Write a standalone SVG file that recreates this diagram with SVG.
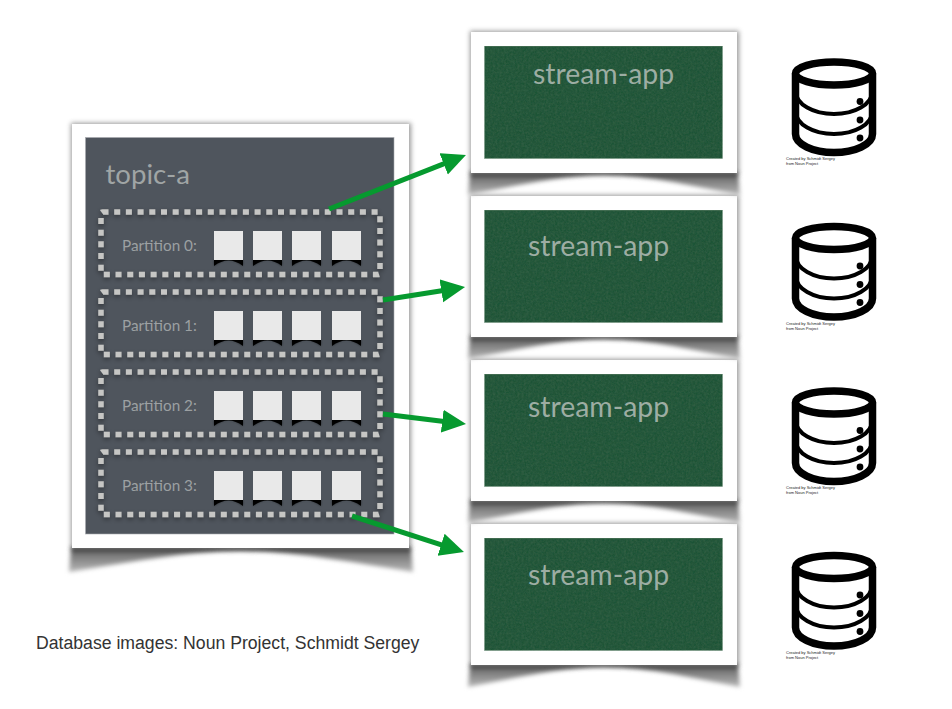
<svg xmlns="http://www.w3.org/2000/svg" xmlns:xlink="http://www.w3.org/1999/xlink" width="952" height="709" viewBox="0 0 952 709">
<style>
.lato{font-family:Lato,"Open Sans","Liberation Sans",sans-serif}
.title{font-size:27.6px;fill:#a0a5a5}
.app{font-size:28.4px;fill:#9dada3}
.part{font-size:15.3px;fill:#9ca0a2}
.dots{fill:none;stroke:#c6c6c4;stroke-width:5.5;stroke-dasharray:6 5.7}
.sq{fill:#e9e9e9}
.card{fill:#fff}
.green{fill:#245437;stroke:#7f9f8b;stroke-width:.6}
.conn{fill:none;stroke:#069a2f;stroke-width:5}
.db{fill:none;stroke:#000}
.credit{font-family:"Liberation Sans",Arial,sans-serif;font-size:4px;fill:#222}
</style>
<defs>
<filter id="b3" x="-10%" y="-30%" width="120%" height="160%"><feGaussianBlur stdDeviation="2"/></filter>
<filter id="b1" x="-20%" y="-30%" width="140%" height="160%"><feGaussianBlur stdDeviation="1.2"/></filter>
<filter id="b2" x="-10%" y="-10%" width="120%" height="120%"><feGaussianBlur stdDeviation="2.5"/></filter>
<filter id="ds" x="-5%" y="-15%" width="110%" height="130%"><feDropShadow dx="0" dy="2" stdDeviation="2.5" flood-color="#000" flood-opacity=".45"/></filter>
<filter id="paper" x="0" y="0" width="100%" height="100%">
<feTurbulence type="fractalNoise" baseFrequency=".45" numOctaves="3" seed="4" result="n"/>
<feColorMatrix in="n" type="matrix" values="0 0 0 0 .08  0 0 0 0 .2  0 0 0 0 .12  0 0 0 .4 -.12" result="m"/>
<feComposite in="m" in2="SourceGraphic" operator="in" result="t"/>
<feMerge><feMergeNode in="SourceGraphic"/><feMergeNode in="t"/></feMerge>
</filter>
<linearGradient id="sg" x1="0" y1="0" x2="0" y2="1"><stop offset="0" stop-color="#222"/><stop offset=".3" stop-color="#777"/><stop offset="1" stop-color="#b8b8b8"/></linearGradient>
<g id="sqr">
<path d="M0 29H29V35Q14.500 23 0 35Z" fill="#000" filter="url(#b1)" opacity=".5"/>
<path d="M0 29H29V35Q14.500 24 0 35Z" fill="#000"/>
<rect class="sq" width="29" height="29"/>
</g>
<g id="squares">
<use xlink:href="#sqr" x="0"/><use xlink:href="#sqr" x="39"/><use xlink:href="#sqr" x="78"/><use xlink:href="#sqr" x="118"/>
</g>
<g id="appcard">
<rect x="-1" y="-1" width="269" height="143" fill="#555" filter="url(#b2)" opacity=".6"/>
<path d="M-1 140H267L269 163C225 155 180 143 133 143C86 143 41 155 -3 163Z" fill="url(#sg)" filter="url(#b3)"/>
<rect class="card" width="266" height="141"/>
<rect class="green" x="13.500" y="14" width="238" height="112.500" filter="url(#paper)"/>
</g>
<g id="dbicon">
<ellipse class="db" cx="834" cy="73.500" rx="38.500" ry="11.500" stroke-width="7.500"/>
<path class="db" stroke-width="7.500" d="M795.500 73.500V134A38.500 18.500 0 0 0 872.500 134V73.500"/>
<path class="db" stroke-width="4" d="M796 92A38 22 0 0 0 872 92M796 112A38 22 0 0 0 872 112"/>
<circle cx="860" cy="101.500" r="3.400"/><circle cx="860" cy="120" r="3.400"/><circle cx="860" cy="138" r="3.400"/>
</g>
<marker id="ah" markerUnits="userSpaceOnUse" markerWidth="26" markerHeight="25" refX="2" refY="11.500" orient="auto" viewBox="0 0 26 25"><path d="M0 0L24 11.500L0 23Z" fill="#069a2f"/></marker>
</defs>

<rect width="952" height="709" fill="#fff"/>

<g id="topic-a">
<rect x="71" y="123" width="340" height="426" fill="#555" filter="url(#b2)" opacity=".6"/>
<path d="M71 547H411L413 572C355 563 295 551 240 551C185 551 125 563 69 572Z" fill="url(#sg)" filter="url(#b3)"/>
<rect class="card" x="72" y="124" width="337" height="424"/>
<rect x="85.500" y="137.500" width="308.500" height="396.500" fill="#4f555d" stroke="#a8abaf" stroke-width=".6"/>
<text class="lato title" x="105.500" y="184">topic-a</text>
</g>

<g id="partition-0">
<rect class="dots" x="101" y="212" width="279" height="62.500" rx="1.500" filter="url(#ds)"/>
<text class="lato part" x="122" y="251">Partition 0:</text>
<use xlink:href="#squares" x="214" y="231"/>
</g>
<g id="partition-1">
<rect class="dots" x="101" y="292" width="279" height="62.500" rx="1.500" filter="url(#ds)"/>
<text class="lato part" x="122" y="331">Partition 1:</text>
<use xlink:href="#squares" x="214" y="311"/>
</g>
<g id="partition-2">
<rect class="dots" x="101" y="372" width="279" height="62.500" rx="1.500" filter="url(#ds)"/>
<text class="lato part" x="122" y="411">Partition 2:</text>
<use xlink:href="#squares" x="214" y="391"/>
</g>
<g id="partition-3">
<rect class="dots" x="101" y="452" width="279" height="62.500" rx="1.500" filter="url(#ds)"/>
<text class="lato part" x="122" y="491">Partition 3:</text>
<use xlink:href="#squares" x="214" y="471"/>
</g>

<g id="app-4"><use xlink:href="#appcard" x="471" y="524"/><text class="lato app" x="528" y="585">stream-app</text></g>
<g id="app-3"><use xlink:href="#appcard" x="471" y="360"/><text class="lato app" x="528" y="417">stream-app</text></g>
<g id="app-2"><use xlink:href="#appcard" x="471" y="196"/><text class="lato app" x="528" y="256">stream-app</text></g>
<g id="app-1"><use xlink:href="#appcard" x="471" y="32"/><text class="lato app" x="533" y="84">stream-app</text></g>

<g id="db-1"><use xlink:href="#dbicon"/><text class="credit" x="786" y="160">Created by Schmidt Sergey</text><text class="credit" x="786" y="165">from Noun Project</text></g>
<g id="db-2"><use xlink:href="#dbicon" y="164.500"/><text class="credit" x="786" y="324.500">Created by Schmidt Sergey</text><text class="credit" x="786" y="329.500">from Noun Project</text></g>
<g id="db-3"><use xlink:href="#dbicon" y="329"/><text class="credit" x="786" y="489">Created by Schmidt Sergey</text><text class="credit" x="786" y="494">from Noun Project</text></g>
<g id="db-4"><use xlink:href="#dbicon" y="493.500"/><text class="credit" x="786" y="653.500">Created by Schmidt Sergey</text><text class="credit" x="786" y="658.500">from Noun Project</text></g>

<text id="caption" x="36" y="649" font-family="'Liberation Sans',Arial,sans-serif" font-size="17.650" fill="#333">Database images: Noun Project, Schmidt Sergey</text>

<g id="connectors">
<line class="conn" x1="329" y1="209" x2="445.500" y2="163.100" marker-end="url(#ah)"/>
<line class="conn" x1="383" y1="300" x2="443.300" y2="290.500" marker-end="url(#ah)"/>
<line class="conn" x1="383" y1="414" x2="444.200" y2="421.400" marker-end="url(#ah)"/>
<line class="conn" x1="352" y1="516" x2="443" y2="545.300" marker-end="url(#ah)"/>
</g>
</svg>
